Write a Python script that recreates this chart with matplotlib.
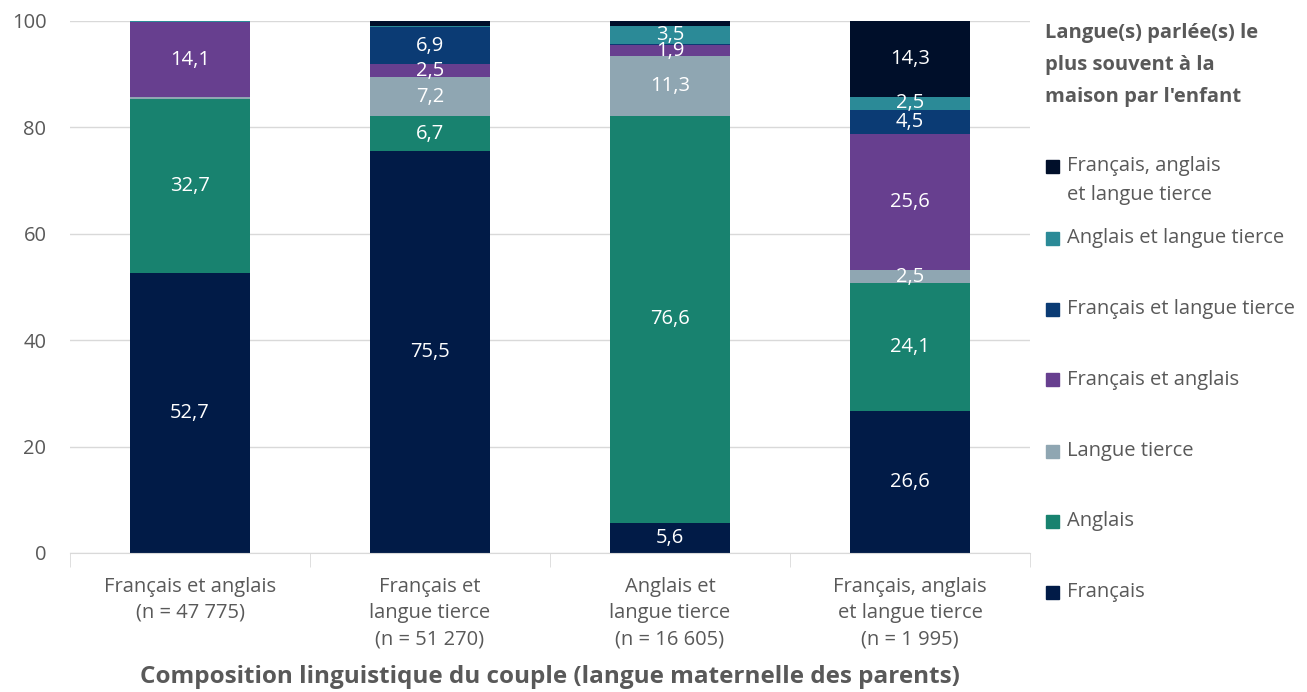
import matplotlib.pyplot as plt
from matplotlib.patches import Rectangle
import numpy as np

plt.rcParams['font.family'] = ['Open Sans', 'DejaVu Sans']

# Couples (x axis) and child's home language shares (%)
couples = ["Français et anglais\n(n = 47 775)",
           "Français et\nlangue tierce\n(n = 51 270)",
           "Anglais et\nlangue tierce\n(n = 16 605)",
           "Français, anglais\net langue tierce\n(n = 1 995)"]

series = ["Français", "Anglais", "Langue tierce", "Français et anglais",
          "Français et langue tierce", "Anglais et langue tierce",
          "Français, anglais\net langue tierce"]

francais = [52.7, 75.5, 5.6, 26.6]
anglais = [32.7, 6.7, 76.6, 24.1]
langue_tierce = [0.3, 7.2, 11.3, 2.5]
fr_an = [14.1, 2.5, 1.9, 25.6]
fr_lt = [0.1, 6.9, 0.2, 4.5]
an_lt = [0.05, 0.3, 3.5, 2.5]
fr_an_lt = [0.05, 0.9, 0.9, 14.3]

values = [francais, anglais, langue_tierce, fr_an, fr_lt, an_lt, fr_an_lt]
colors = ['#011b47', '#18826f', '#8fa6b2', '#673f8f', '#0b3b74', '#2b8a97', '#000f2a']

legend_title = "Langue(s) parlée(s) le\nplus souvent à la\nmaison par l'enfant"
x_title = "Composition linguistique du couple (langue maternelle des parents)"

grey = '#595959'
fs = 14.5

W, H = 1307, 692
fig = plt.figure(figsize=(W / 100, H / 100), dpi=100)
ax = fig.add_axes([70 / W, 1 - 553 / H, 960 / W, 532 / H])

x = np.arange(len(couples))
bottom = np.zeros(len(couples))
for vals, col in zip(values, colors):
    vals = np.array(vals)
    ax.bar(x, vals, 0.5, bottom=bottom, color=col, zorder=2)
    for xi, v, b in zip(x, vals, bottom):
        if v >= 1.5:
            ax.text(xi, b + v / 2, f"{v:.1f}".replace('.', ','), ha='center', va='center',
                    color='white', fontsize=fs, zorder=3)
    bottom += vals

ax.set_xlim(-0.5, 3.5)
ax.set_ylim(0, 100)
ax.set_yticks(range(0, 101, 20))
ax.yaxis.grid(True, color='#d9d9d9', linewidth=1, zorder=0)
for s in ['top', 'right', 'left']:
    ax.spines[s].set_visible(False)
ax.spines['bottom'].set_color('#d9d9d9')
ax.tick_params(axis='y', length=0, labelsize=fs, labelcolor=grey, pad=17)
ax.set_xticks(x)
ax.set_xticklabels(couples, fontsize=fs, color=grey, linespacing=1.42)
ax.set_xticks(np.arange(-0.5, 3.6, 1), minor=True)
ax.tick_params(axis='x', which='major', length=0, pad=17)
ax.tick_params(axis='x', which='minor', length=10, color='#d9d9d9')
ax.set_xlabel(x_title, fontsize=17.5, color=grey, fontweight='bold', va='center')
ax.xaxis.set_label_coords(0.5, -124 / 532)

# Legend drawn by hand, top to bottom
for i, line in enumerate(legend_title.split('\n')):
    fig.text(1045 / W, 1 - (33 + 32 * i) / H, line, ha='left', va='center',
             fontsize=fs, fontweight='bold', color=grey)
ys = [166, 238, 309, 380, 451, 521, 592]
for label, col, yy in zip(series[::-1], colors[::-1], ys):
    fig.patches.append(Rectangle((1046 / W, 1 - (yy + 6.5) / H), 13 / W, 13 / H,
                                 transform=fig.transFigure, color=col))
    for j, line in enumerate(label.split('\n')):
        fig.text(1067 / W, 1 - (yy + 29 * j) / H, line, ha='left', va='center',
                 fontsize=fs, color=grey)

fig.savefig('out.png', dpi=100)
